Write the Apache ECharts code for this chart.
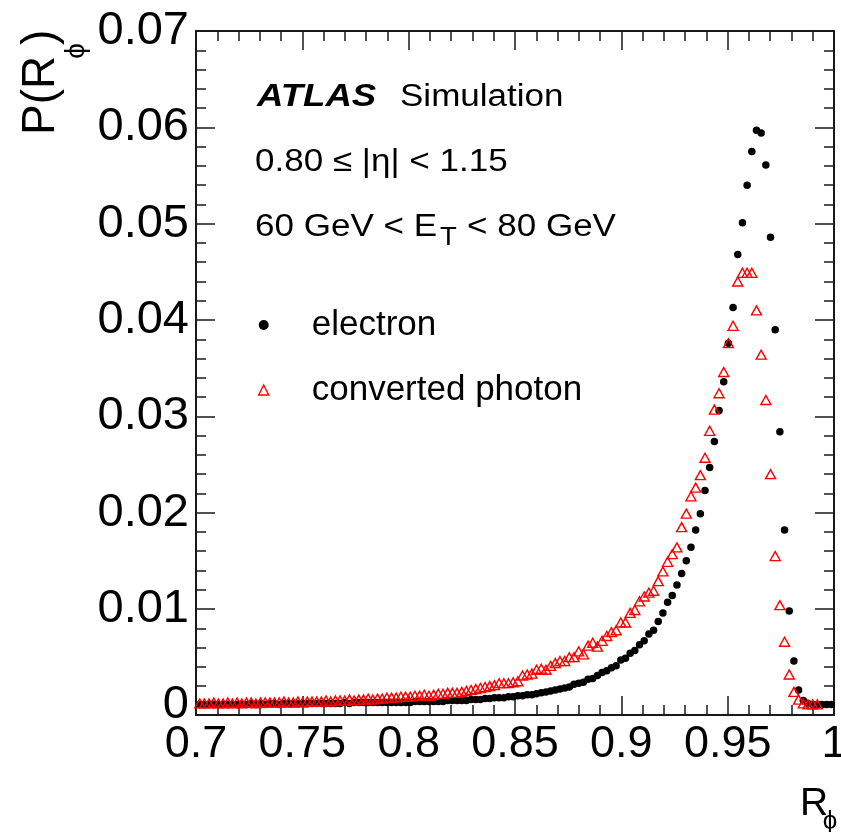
<!DOCTYPE html>
<html>
<head>
<meta charset="utf-8">
<script src="https://cdn.jsdelivr.net/npm/echarts@6/dist/echarts.min.js"></script>
<style>
html,body{margin:0;padding:0;background:#fff;}
#c{width:841px;height:832px;}
</style>
</head>
<body>
<div id="c"></div>
<script>
// ---- data ----
const binStart = 0.70175;   // centre of first visible bin
const binWidth = 0.0022;    // histogram bin width
const electron = [
 0.0001,0.0001,0.0001,0.0001,0.0001,0.0001,0.0001,0.0001,0.0001,0.0001,
 0.0001,0.0002,0.0001,0.0002,0.0001,0.0002,0.0002,0.0001,0.0002,0.0002,
 0.0002,0.0002,0.0002,0.0002,0.0002,0.0002,0.0002,0.0002,0.0002,0.0002,
 0.0002,0.0003,0.0002,0.0003,0.0003,0.0003,0.0003,0.0003,0.0003,0.0003,
 0.0003,0.0003,0.0003,0.0003,0.0003,0.0003,0.0004,0.0004,0.0004,0.0004,
 0.0004,0.0004,0.0004,0.0005,0.0005,0.0005,0.0005,0.0005,0.0006,0.0006,
 0.0006,0.0007,0.0007,0.0008,0.0008,0.0008,0.0009,0.0009,0.0010,0.0010,
 0.0011,0.0011,0.0012,0.0013,0.0014,0.0015,0.0016,0.0017,0.0018,0.0019,
 0.0022,0.0023,0.0024,0.0027,0.0028,0.0031,0.0034,0.0036,0.0039,0.0041,
 0.0047,0.0049,0.0054,0.0057,0.0063,0.0067,0.0074,0.0078,0.0087,0.0096,
 0.0107,0.0114,0.0125,0.0137,0.0150,0.0164,0.0182,0.0199,0.0223,0.0247,
 0.0274,0.0306,0.0336,0.0376,0.0413,0.0468,0.0501,0.0540,0.0575,0.0597,
 0.0594,0.0561,0.0486,0.0390,0.0284,0.0182,0.0098,0.0046,0.0016,0.0005,
 0.0002,0.0001,0.0001,0.0001,0.0001,0.0001
];
const convertedPhoton = [
 0.0002,0.0002,0.0002,0.0003,0.0002,0.0002,0.0003,0.0002,0.0003,0.0002,
 0.0003,0.0003,0.0002,0.0003,0.0003,0.0003,0.0003,0.0003,0.0004,0.0003,
 0.0003,0.0004,0.0003,0.0004,0.0004,0.0004,0.0004,0.0005,0.0004,0.0005,
 0.0005,0.0005,0.0006,0.0005,0.0006,0.0006,0.0007,0.0006,0.0007,0.0007,
 0.0008,0.0008,0.0008,0.0009,0.0009,0.0009,0.0010,0.0010,0.0011,0.0010,
 0.0011,0.0012,0.0012,0.0013,0.0013,0.0013,0.0014,0.0015,0.0016,0.0017,
 0.0018,0.0019,0.0020,0.0021,0.0023,0.0023,0.0023,0.0024,0.0025,0.0031,
 0.0032,0.0033,0.0037,0.0038,0.0037,0.0041,0.0044,0.0046,0.0046,0.0050,
 0.0050,0.0056,0.0053,0.0062,0.0065,0.0061,0.0067,0.0072,0.0076,0.0078,
 0.0086,0.0086,0.0096,0.0099,0.0108,0.0113,0.0117,0.0119,0.0129,0.0139,
 0.0149,0.0157,0.0164,0.0185,0.0199,0.0217,0.0226,0.0239,0.0257,0.0285,
 0.0307,0.0324,0.0346,0.0376,0.0394,0.0440,0.0449,0.0449,0.0449,0.0410,
 0.0364,0.0317,0.0240,0.0155,0.0104,0.0066,0.0032,0.0014,0.0006,0.0002,
 0.0001,0.0001,0.0001,null,null,null
];
const yMajorTicks = [0,0.01,0.02,0.03,0.04,0.05,0.06,0.07];
const yMinorTicks = [0,0.002,0.004,0.006,0.008,0.01,0.012,0.014,0.016,0.018,0.02,0.022,0.024,0.026,0.028,0.03,0.032,0.034,0.036,0.038,0.04,0.042,0.044,0.046,0.048,0.05,0.052,0.054,0.056,0.058,0.06,0.062,0.064,0.066,0.068,0.07];
const xMin = 0.7, xMax = 1.0, xStep = 0.05;
const yMin = -0.001, yMax = 0.07;

// ---- chart ----
const FONT = '"Liberation Sans", Arial, Helvetica, sans-serif';
const FRAME = '#1a1a1a';
const toPairs = arr => arr.map((v,i)=>[binStart + i*binWidth, v]).filter(p => p[1] !== null);

function xAxisDef(pos, showLabel){
  return {
    type:'value', position:pos, min:xMin, max:xMax, interval:xStep,
    axisLine:{show:true, onZero:false, lineStyle:{color:FRAME, width:2}},
    axisTick:{show:true, inside:true, length:19, lineStyle:{color:FRAME, width:1.5}},
    minorTick:{show:true, splitNumber:5, length:10, lineStyle:{color:FRAME, width:1.5}},
    splitLine:{show:false}, minorSplitLine:{show:false},
    axisLabel:{show:showLabel, margin:7, color:'#000', fontFamily:FONT, fontSize:45,
      formatter: v => String(+(+v).toFixed(2))}
  };
}
function yAxisDef(pos, ticks, len, showLine, showLabel){
  return {
    type:'value', position:pos, min:yMin, max:yMax,
    axisLine:{show:showLine, onZero:false, lineStyle:{color:FRAME, width:2}},
    axisTick:{show:true, inside:true, length:len, customValues:ticks, lineStyle:{color:FRAME, width:1.5}},
    splitLine:{show:false},
    axisLabel:{show:showLabel, customValues:yMajorTicks, margin:7, color:'#000', fontFamily:FONT, fontSize:47,
      formatter: v => (Math.abs(v) < 1e-9 ? '0' : (+v).toFixed(2))}
  };
}

const chart = echarts.init(document.getElementById('c'), null, {renderer:'canvas'});
chart.setOption({
  animation:false,
  backgroundColor:'#fff',
  grid:{left:196, right:7, top:31, bottom:117, containLabel:false, outerBoundsMode:'none'},
  xAxis:[ xAxisDef('bottom', true), xAxisDef('top', false) ],
  yAxis:[
    yAxisDef('left', yMajorTicks, 19, true, true),
    yAxisDef('left', yMinorTicks, 10, false, false),
    yAxisDef('right', yMajorTicks, 19, true, false),
    yAxisDef('right', yMinorTicks, 10, false, false)
  ],
  legend:{
    orient:'vertical', left:258, top:305, padding:0,
    itemWidth:10, itemHeight:10, itemGap:25,
    textStyle:{fontFamily:FONT, fontSize:35, color:'#000', lineHeight:40, padding:[0,0,0,38]},
    data:[
      {name:'electron', icon:'circle', itemStyle:{color:'#000', opacity:1}},
      {name:'converted photon', icon:'triangle', itemStyle:{color:'rgba(0,0,0,0)', borderColor:'#ff0000', borderWidth:1.4}}
    ]
  },
  series:[
    {type:'scatter', name:'electron', xAxisIndex:0, yAxisIndex:0, data:toPairs(electron),
     symbol:'circle', symbolSize:7.5, itemStyle:{color:'#000', opacity:1}, z:2},
    {type:'scatter', name:'converted photon', xAxisIndex:0, yAxisIndex:0, data:toPairs(convertedPhoton),
     symbol:'triangle', symbolSize:[10,9], itemStyle:{color:'rgba(0,0,0,0)', borderColor:'#ff0000', borderWidth:1.4, opacity:1}, z:3}
  ],
  graphic:[
    // y-axis title P(R_phi)
    {type:'text', x:41, y:135, rotation:Math.PI/2, style:{text:'P(R', font:'46px '+FONT, fill:'#000', align:'left', verticalAlign:'middle'}},
    {type:'text', x:76, y:51, rotation:Math.PI/2, style:{text:'\u03D5', font:'28px '+FONT, fill:'#000', align:'center', verticalAlign:'middle'}},
    {type:'text', x:41, y:45, rotation:Math.PI/2, style:{text:')', font:'46px '+FONT, fill:'#000', align:'left', verticalAlign:'middle'}},
    // x-axis title R_phi
    {type:'text', x:800, y:804, style:{text:'R', font:'39px '+FONT, fill:'#000', align:'left', verticalAlign:'middle'}},
    {type:'text', x:830, y:822, style:{text:'\u03D5', font:'26px '+FONT, fill:'#000', align:'center', verticalAlign:'middle'}},
    // ATLAS label
    {type:'text', x:257, y:97, scaleX:1.18, style:{text:'ATLAS', font:'italic bold 31px '+FONT, fill:'#000', align:'left', verticalAlign:'middle'}},
    {type:'text', x:400, y:97, scaleX:1.13, style:{text:'Simulation', font:'31px '+FONT, fill:'#000', align:'left', verticalAlign:'middle'}},
    {type:'text', x:255, y:162, scaleX:1.13, style:{text:'0.80 \u2264 |\u03B7| < 1.15', font:'31px '+FONT, fill:'#000', align:'left', verticalAlign:'middle'}},
    {type:'text', x:255, y:227, scaleX:1.13, style:{text:'60 GeV < E', font:'31px '+FONT, fill:'#000', align:'left', verticalAlign:'middle'}},
    {type:'text', x:440, y:238, scaleX:1.1, style:{text:'T', font:'25px '+FONT, fill:'#000', align:'left', verticalAlign:'middle'}},
    {type:'text', x:467, y:227, scaleX:1.13, style:{text:'< 80 GeV', font:'31px '+FONT, fill:'#000', align:'left', verticalAlign:'middle'}}
  ]
});
</script>
</body>
</html>
